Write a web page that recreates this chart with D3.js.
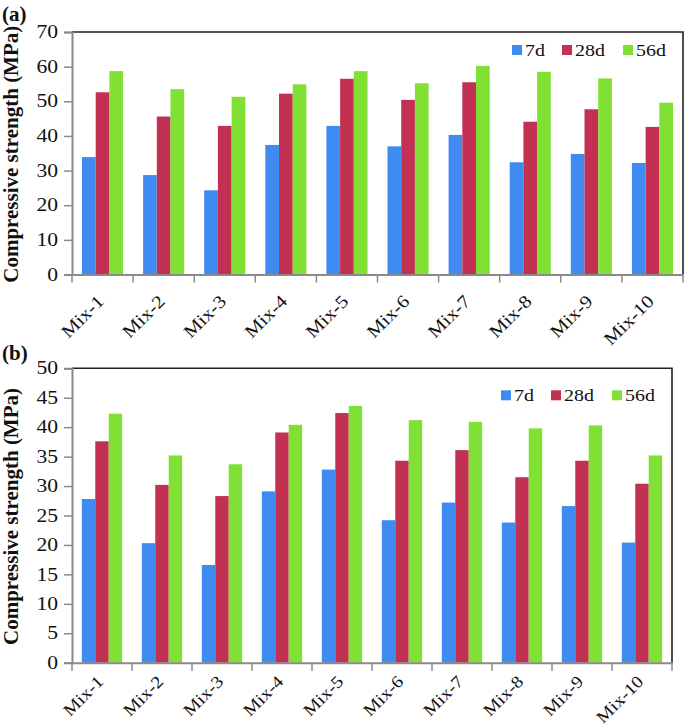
<!DOCTYPE html>
<html>
<head>
<meta charset="utf-8">
<script src="https://cdn.jsdelivr.net/npm/d3@7/dist/d3.min.js"></script>
<style>
  html, body { margin: 0; padding: 0; background: #fff; }
  svg { display: block; }
  text { font-family: "Liberation Serif", "Times New Roman", serif; fill: #111; }
</style>
</head>
<body>
<svg id="chart" width="685" height="728"></svg>
<script>
// ---- data ----
const categories = ["Mix-1","Mix-2","Mix-3","Mix-4","Mix-5","Mix-6","Mix-7","Mix-8","Mix-9","Mix-10"];
const seriesNames = ["7d","28d","56d"];
const colors = ["#3f8bf1","#c23152","#80e034"];

const a7d  = [33.9, 28.7, 24.3, 37.4, 42.9, 37.0, 40.3, 32.4, 34.8, 32.2];
const a28d = [52.6, 45.6, 42.9, 52.2, 56.5, 50.4, 55.5, 44.1, 47.7, 42.6];
const a56d = [58.7, 53.5, 51.3, 54.9, 58.7, 55.2, 60.2, 58.5, 56.6, 49.6];

const b7d  = [27.8, 20.3, 16.6, 29.1, 32.8, 24.2, 27.2, 23.8, 26.6, 20.4];
const b28d = [37.6, 30.2, 28.3, 39.1, 42.4, 34.3, 36.1, 31.5, 34.3, 30.4];
const b56d = [42.3, 35.2, 33.7, 40.4, 43.6, 41.2, 40.9, 39.8, 40.3, 35.2];

const aTicks = [0,10,20,30,40,50,60,70];
const bTicks = [0,5,10,15,20,25,30,35,40,45,50];

const yTitle = "Compressive strength (MPa)";

// ---- drawing ----
const svg = d3.select("#chart");
const SX = 1.2; // horizontal stretch of small texts seen in the reference

function drawPanel(opt) {
  const { label, labelY, x0, x1, yTop, yBottom, ticks, series, legendDy, xLabDy, xLabSize } = opt;
  const g = svg.append("g");
  const x = d3.scaleBand().domain(categories).range([x0, x1]).padding(0);
  const xs = d3.scaleBand().domain(seriesNames).range([0, x.bandwidth()])
    .paddingInner(0).paddingOuter(0.73);
  const y = d3.scaleLinear().domain([0, d3.max(ticks)]).range([yBottom, yTop]);

  // bars
  series.forEach((vals, si) => {
    g.append("g").selectAll("rect").data(vals).join("rect")
      .attr("x", (d, i) => x(categories[i]) + xs(seriesNames[si]))
      .attr("y", d => y(d))
      .attr("width", xs.bandwidth())
      .attr("height", d => y(0) - y(d))
      .attr("fill", colors[si]);
  });

  // top & right border
  g.append("path")
    .attr("d", `M${x0},${yTop}H${x1}V${yBottom}`)
    .attr("fill", "none").attr("stroke", "#222").attr("stroke-width", 1.6);

  // y axis (line + ticks from d3, labels drawn separately)
  const yAxis = d3.axisLeft(y).tickValues(ticks).tickSize(8).tickFormat("");
  const ya = g.append("g").attr("transform", `translate(${x0},0)`).call(yAxis);
  ya.select(".domain").attr("stroke", "#8a8a8a").attr("stroke-width", 2);
  ya.selectAll(".tick line").attr("stroke", "#8a8a8a").attr("stroke-width", 1.5);
  g.append("g").selectAll("text").data(ticks).join("text")
    .attr("transform", d => `translate(${x0 - 14},${y(d)}) scale(${SX},1)`)
    .attr("text-anchor", "end").attr("dy", "0.34em")
    .style("font-size", "18px").text(d => d3.format("d")(d));

  // x axis: line + ticks at category boundaries
  const xa = g.append("g").attr("transform", `translate(0,${yBottom})`).call(
    d3.axisBottom(x).tickSize(0).tickFormat(""));
  xa.select(".domain").attr("stroke", "#8a8a8a").attr("stroke-width", 2);
  const bounds = categories.map(c => x(c)).concat([x1]);
  xa.selectAll(".bound").data(bounds).join("line").attr("class", "bound")
    .attr("x1", d => d).attr("x2", d => d).attr("y1", 0).attr("y2", 8)
    .attr("stroke", "#8a8a8a").attr("stroke-width", 1.5);
  xa.selectAll(".xlab").data(categories).join("text").attr("class", "xlab")
    .attr("transform", d => `translate(${x(d) + x.bandwidth() / 2 + 2.5},${xLabDy}) rotate(-45) scale(1.15,1)`)
    .attr("text-anchor", "end")
    .style("font-size", xLabSize + "px").text(d => d);

  // y title
  g.append("text")
    .attr("transform", `translate(18,${(yTop + yBottom) / 2 + 1}) rotate(-90)`)
    .attr("text-anchor", "middle")
    .style("font-size", "21px").style("font-weight", "bold")
    .text(yTitle);

  // panel label
  g.append("text").attr("x", 2).attr("y", labelY)
    .style("font-size", "21px").style("font-weight", "bold").text(label);

  // legend
  const offs = [171, 121, 60];
  const lg = g.append("g");
  seriesNames.forEach((s, i) => {
    const lx = x1 - offs[i];
    lg.append("rect").attr("x", lx).attr("y", yTop + legendDy - 5)
      .attr("width", 10).attr("height", 10).attr("fill", colors[i]);
    lg.append("text")
      .attr("transform", `translate(${lx + 13},${yTop + legendDy + 6}) scale(1.14,1)`)
      .style("font-size", "17.5px").text(s);
  });
}

drawPanel({ label: "(a)", labelY: 21, x0: 72, x1: 683, yTop: 32, yBottom: 274.5,
  ticks: aTicks, series: [a7d, a28d, a56d], legendDy: 18, xLabDy: 28, xLabSize: 18 });
drawPanel({ label: "(b)", labelY: 360, x0: 72, x1: 672, yTop: 368.3, yBottom: 662.7,
  ticks: bTicks, series: [b7d, b28d, b56d], legendDy: 27, xLabDy: 20, xLabSize: 17 });
</script>
</body>
</html>
